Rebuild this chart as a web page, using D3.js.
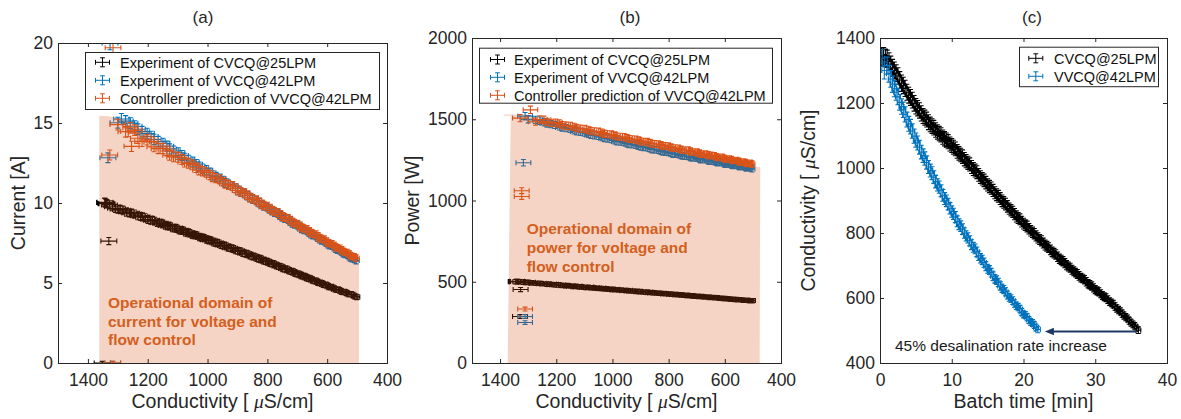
<!DOCTYPE html>
<html><head><meta charset="utf-8">
<script src="https://cdn.jsdelivr.net/npm/d3@7"></script>
<style>
body{margin:0;background:#fff}
svg{display:block}
</style>
</head><body>
<svg id="chart" width="1181" height="419"></svg>
<script>
// ---------------- DATA ----------------
// CVCQ @ 25 LPM experiment, samples on the half minute
const cvcqTime = [0,0.5,1,1.5,2,2.5,3,3.5,4,4.5,5,5.5,6,6.5,7,7.5,8,8.5,9,9.5,10,10.5,11,11.5,12,12.5,13,13.5,14,14.5,15,15.5,16,16.5,17,17.5,18,18.5,19,19.5,20,20.5,21,21.5,22,22.5,23,23.5,24,24.5,25,25.5,26,26.5,27,27.5,28,28.5,29,29.5,30,30.5,31,31.5,32,32.5,33,33.5,34,34.5,35,35.5,36];
const cvcqCond = [1340,1344,1336,1318,1300,1283,1261,1245,1224,1209,1190,1177,1160,1149,1134,1124,1111,1102,1090,1081,1069,1059,1045,1035,1021,1011,997,987,972,962,948,938,924,913,899,889,875,865,851,842,829,820,807,798,785,776,763,755,742,734,721,713,701,693,682,674,663,656,644,637,626,619,608,601,589,581,568,559,546,537,524,514,501];
const cvcqCurrent = [9.98,10.03,9.95,9.77,9.62,9.55,9.38,9.31,9.15,9.08,8.92,8.87,8.74,8.69,8.57,8.53,8.42,8.39,8.29,8.26,8.15,8.11,7.99,7.96,7.84,7.80,7.68,7.64,7.50,7.47,7.34,7.30,7.18,7.13,7.01,6.97,6.84,6.80,6.67,6.64,6.51,6.48,6.36,6.32,6.20,6.16,6.04,6.00,5.87,5.85,5.72,5.69,5.57,5.55,5.43,5.40,5.28,5.26,5.14,5.12,5.01,4.98,4.88,4.85,4.74,4.70,4.59,4.55,4.44,4.40,4.29,4.25,4.13];
const cvcqPower = [503,500,502,497,497,492,491,487,486,482,481,477,477,473,473,470,470,466,467,464,464,460,461,457,457,454,454,450,450,447,447,443,444,440,440,436,437,433,433,430,430,427,427,424,424,421,421,418,418,415,415,412,412,409,410,406,407,404,404,401,402,398,399,396,396,393,393,390,390,387,387,384,384];
// CVCQ @ 25 LPM experiment, samples in between (quarter minutes)
const cvcqTime2 = [0.25,0.75,1.25,1.75,2.25,2.75,3.25,3.75,4.25,4.75,5.25,5.75,6.25,6.75,7.25,7.75,8.25,8.75,9.25,9.75,10.25,10.75,11.25,11.75,12.25,12.75,13.25,13.75,14.25,14.75,15.25,15.75,16.25,16.75,17.25,17.75,18.25,18.75,19.25,19.75,20.25,20.75,21.25,21.75,22.25,22.75,23.25,23.75,24.25,24.75,25.25,25.75,26.25,26.75,27.25,27.75,28.25,28.75,29.25,29.75,30.25,30.75,31.25,31.75,32.25,32.75,33.25,33.75,34.25,34.75,35.25,35.75];
const cvcqCond2 = [1343,1339,1328,1308,1292,1271,1254,1233,1217,1199,1184,1168,1155,1141,1129,1117,1106,1095,1086,1074,1064,1051,1040,1027,1016,1003,992,979,967,955,943,931,918,906,894,882,870,858,846,835,824,813,802,791,780,769,759,748,738,727,717,707,697,687,678,668,660,650,641,631,622,613,604,595,585,574,563,552,541,530,519,507];
const cvcqCurrent2 = [10.05,9.96,9.88,9.67,9.60,9.43,9.37,9.20,9.14,8.97,8.92,8.77,8.74,8.60,8.57,8.44,8.43,8.31,8.30,8.17,8.15,8.02,7.99,7.87,7.84,7.71,7.68,7.54,7.51,7.37,7.34,7.21,7.17,7.04,7.01,6.87,6.84,6.71,6.67,6.55,6.52,6.39,6.36,6.23,6.20,6.07,6.04,5.90,5.88,5.75,5.72,5.60,5.58,5.46,5.43,5.31,5.29,5.17,5.15,5.03,5.01,4.90,4.88,4.76,4.74,4.61,4.59,4.46,4.44,4.31,4.29,4.16];
const cvcqPower2 = [501,499,500,495,494,490,489,485,484,480,479,475,475,471,472,468,468,465,466,462,462,459,459,455,456,452,452,448,449,445,445,442,442,438,438,435,435,431,432,428,429,425,426,422,423,419,420,416,417,413,414,410,411,408,408,405,406,402,403,400,400,397,398,394,395,391,392,388,389,385,386,382];

// VVCQ @ 42 LPM experiment and controller prediction, half-minute samples
const vvcqTime = [1.5,2,2.5,3,3.5,4,4.5,5,5.5,6,6.5,7,7.5,8,8.5,9,9.5,10,10.5,11,11.5,12,12.5,13,13.5,14,14.5,15,15.5,16,16.5,17,17.5,18,18.5,19,19.5,20,20.5,21,21.5,22];
const vvcqCond = [1274,1244,1219,1189,1165,1136,1114,1086,1064,1038,1017,992,972,948,930,906,889,866,849,827,812,791,776,756,742,722,709,690,678,659,648,630,619,602,592,576,566,550,541,526,517,503];
const vvcqCurrent = [15.12,14.80,14.46,14.16,13.84,13.55,13.25,12.97,12.68,12.42,12.14,11.89,11.63,11.39,11.15,10.92,10.68,10.46,10.23,10.02,9.81,9.62,9.41,9.22,9.03,8.84,8.66,8.49,8.31,8.14,7.98,7.82,7.65,7.50,7.35,7.22,7.06,6.93,6.79,6.66,6.52,6.40];
const predCurrent = [14.45,14.55,13.85,13.82,13.40,13.25,12.88,12.72,12.47,12.20,11.99,11.75,11.56,11.33,11.13,10.93,10.70,10.49,10.26,10.06,9.85,9.67,9.47,9.28,9.09,8.92,8.73,8.57,8.40,8.23,8.08,7.92,7.76,7.61,7.47,7.34,7.19,7.07,6.93,6.80,6.67,6.55];
const vvcqPower = [1496,1482,1470,1456,1445,1432,1422,1410,1400,1389,1380,1369,1361,1351,1344,1335,1328,1319,1312,1304,1298,1291,1285,1278,1273,1266,1262,1256,1252,1245,1242,1236,1233,1227,1224,1219,1216,1211,1208,1203,1200,1195];
const predPower = [1485,1497,1478,1474,1460,1453,1442,1435,1425,1418,1408,1401,1392,1385,1377,1370,1362,1355,1348,1341,1335,1328,1322,1315,1310,1303,1298,1292,1286,1280,1277,1269,1266,1260,1255,1251,1246,1241,1237,1233,1229,1224];
// VVCQ in-between samples (quarter minutes)
const vvcqTime2 = [1.75,2.25,2.75,3.25,3.75,4.25,4.75,5.25,5.75,6.25,6.75,7.25,7.75,8.25,8.75,9.25,9.75,10.25,10.75,11.25,11.75,12.25,12.75,13.25,13.75,14.25,14.75,15.25,15.75,16.25,16.75,17.25,17.75,18.25,18.75,19.25,19.75,20.25,20.75,21.25,21.75];
const vvcqCond2 = [1258,1233,1202,1179,1149,1127,1098,1077,1049,1029,1003,984,958,941,916,899,876,859,836,821,800,785,764,751,730,717,698,686,667,655,637,626,609,598,583,572,557,547,532,523,509];
const vvcqCurrent2 = [14.99,14.61,14.34,13.97,13.73,13.38,13.14,12.80,12.57,12.26,12.05,11.73,11.53,11.25,11.06,10.78,10.59,10.33,10.15,9.90,9.74,9.50,9.34,9.11,8.96,8.73,8.60,8.38,8.25,8.04,7.92,7.72,7.60,7.41,7.31,7.12,7.02,6.84,6.75,6.57,6.47];
const predCurrent2 = [14.70,14.05,13.95,13.52,13.40,12.98,12.86,12.55,12.38,12.05,11.91,11.62,11.48,11.20,11.06,10.79,10.63,10.35,10.19,9.93,9.79,9.54,9.41,9.16,9.04,8.80,8.68,8.46,8.35,8.13,8.03,7.81,7.72,7.51,7.44,7.24,7.16,6.97,6.90,6.71,6.63];
const vvcqPower2 = [1491,1474,1465,1449,1441,1425,1418,1403,1397,1383,1377,1363,1358,1346,1342,1330,1326,1314,1310,1299,1297,1286,1284,1274,1272,1262,1261,1252,1251,1242,1241,1233,1232,1224,1224,1216,1216,1208,1208,1200,1200];
const predPower2 = [1498,1484,1479,1464,1459,1445,1441,1427,1424,1410,1407,1394,1391,1378,1376,1363,1361,1349,1347,1335,1334,1322,1321,1310,1309,1298,1297,1286,1285,1276,1275,1265,1265,1255,1255,1246,1246,1236,1237,1228,1229];

// start-up samples (irregular) per panel
const aCvcqCond = [1330,1352], aCvcqCurrent = [7.62,0];
const aVvcqCond = [1326,1333,1317,1300,1288], aVvcqCurrent = [20.0,12.83,0,15.02,15.25];
const aPredCond = [1316,1327,1317,1254,1265,1300], aPredCurrent = [19.7,13.0,0,13.54,14.47,14.9];
const bCvcqCond = [1327,1329], bCvcqPower = [452,286];
const bVvcqCond = [1311,1317,1311,1311,1300], bVvcqPower = [1519,1232,286,249,1500];
const bPredCond = [1292,1329,1323,1323,1311], bPredPower = [1558,1507,1060,1025,332];
const cVvcqTime = [0,0.3,0.6,1.0,1.25], cVvcqCond = [1322,1338,1300,1315,1290];

// operational domains (shaded)
const domainACond = [1362,1362,1330,1300,1270,1200,1100,1000,900,800,700,600,494,494];
const domainACurrent = [0,15.45,15.42,15.3,15.2,14.5,13.35,12.2,11.05,9.9,8.75,7.6,6.5,0];
const domainBCond = [1373,1362,1387,1387,1300,1270,1100,900,700,500,474,476];
const domainBPower = [0,1522,1522,1530,1530,1505,1440,1365,1290,1210,1204,0];

// measurement uncertainties
const condErrFrac = 0.02, currErrBase = 0.1, currErrFrac = 0.016, powErrBase = 9, powErrFrac = 0.009, timeErr = 0.35;

// ticks & labels
const condTicks = [1400,1200,1000,800,600,400];
const currentTicks = [0,5,10,15,20];
const powerTicks = [0,500,1000,1500,2000];
const timeTicks = [0,10,20,30,40];
const condTicksC = [400,600,800,1000,1200,1400];
const legendAB = ["Experiment of CVCQ@25LPM","Experiment of VVCQ@42LPM","Controller prediction of VVCQ@42LPM"];
const legendC = ["CVCQ@25LPM","VVCQ@42LPM"];
const noteA = ["Operational domain of","current for voltage and","flow control"];
const noteB = ["Operational domain of","power for voltage and","flow control"];
const arrowText = "45% desalination rate increase";

// ---------------- DRAWING ----------------
const FONT = '"Liberation Sans", Arial, Helvetica, sans-serif';
const INK = '#262626';
const C_BLACK = '#000000', C_BLUE = '#0072BD', C_ORANGE = '#D95319';
const svg = d3.select('#chart');
const defs = svg.append('defs');

const boxA = {x0:58, x1:387, y0:43, y1:363};
const boxB = {x0:472, x1:781, y0:38, y1:363};
const boxC = {x0:880, x1:1167, y0:38, y1:363};

const xA = d3.scaleLinear().domain([1500,400]).range([boxA.x0, boxA.x1]);
const yA = d3.scaleLinear().domain([0,20]).range([boxA.y1, boxA.y0]);
const xB = d3.scaleLinear().domain([1500,400]).range([boxB.x0, boxB.x1]);
const yB = d3.scaleLinear().domain([0,2000]).range([boxB.y1, boxB.y0]);
const xC = d3.scaleLinear().domain([0,40]).range([boxC.x0, boxC.x1]);
const yC = d3.scaleLinear().domain([400,1400]).range([boxC.y1, boxC.y0]);

function clip(id, b){
  defs.append('clipPath').attr('id', id).append('rect')
    .attr('x', b.x0).attr('y', b.y0).attr('width', b.x1-b.x0).attr('height', b.y1-b.y0);
}
clip('clipA', boxA); clip('clipB', boxB); clip('clipC', boxC);

function errorbars(g, xs, ys, X, Y, ex, ey, color){
  const cap = 2.5;
  const d = X.map((xv, i) => {
    const yv = Y[i];
    const cx = xs(xv), cy = ys(yv);
    const hx1 = xs(xv - ex(xv)), hx2 = xs(xv + ex(xv));
    const vy1 = ys(yv - ey(yv)), vy2 = ys(yv + ey(yv));
    return `M${hx1},${cy}H${hx2}M${hx1},${cy-cap}V${cy+cap}M${hx2},${cy-cap}V${cy+cap}` +
           `M${cx},${vy1}V${vy2}M${cx-cap},${vy1}H${cx+cap}M${cx-cap},${vy2}H${cx+cap}`;
  }).join('');
  g.append('path').attr('d', d).attr('fill','none').attr('stroke', color).attr('stroke-width', 1.1);
}

function axes(b, xs, ys, xt, yt){
  const fmt = d3.format('d');
  const g = svg.append('g').attr('font-family', FONT).attr('font-size', 17.5).attr('color', INK);
  g.append('g').attr('transform', `translate(0,${b.y1})`)
    .call(d3.axisBottom(xs).tickValues(xt).tickFormat(fmt).tickSize(-4).tickPadding(11));
  g.append('g').attr('transform', `translate(0,${b.y0})`)
    .call(d3.axisTop(xs).tickValues(xt).tickSize(-4).tickFormat(''));
  g.append('g').attr('transform', `translate(${b.x0},0)`)
    .call(d3.axisLeft(ys).tickValues(yt).tickFormat(fmt).tickSize(-4).tickPadding(5));
  g.append('g').attr('transform', `translate(${b.x1},0)`)
    .call(d3.axisRight(ys).tickValues(yt).tickSize(-4).tickFormat(''));
  g.selectAll('.domain').remove();
  g.selectAll('text').attr('fill', INK).attr('font-size', 17.5).attr('font-family', FONT);
  g.selectAll('.tick line').attr('stroke', INK);
  g.append('rect').attr('x', b.x0+0.5).attr('y', b.y0+0.5)
    .attr('width', b.x1-b.x0).attr('height', b.y1-b.y0)
    .attr('fill','none').attr('stroke', INK).attr('stroke-width', 1);
}

function text(x, y, s, opts={}){
  const t = svg.append('text').attr('x', x).attr('y', y).text(s)
    .attr('font-family', FONT).attr('font-size', opts.size || 17)
    .attr('fill', opts.color || INK).attr('text-anchor', opts.anchor || 'start');
  if (opts.weight) t.attr('font-weight', opts.weight);
  return t;
}

function condLabel(x, y, rotate){
  const t = svg.append('text').attr('font-family', FONT).attr('font-size', 19.5)
    .attr('fill', INK).attr('text-anchor','middle')
    .attr('transform', rotate ? `translate(${x},${y}) rotate(-90)` : `translate(${x},${y})`);
  t.append('tspan').text('Conductivity [ ');
  t.append('tspan').text('μ').attr('font-family','"Liberation Serif", serif').attr('font-style','italic');
  t.append('tspan').text('S/cm]');
}

function legend(b, rows){
  const g = svg.append('g');
  g.append('rect').attr('x', b.x+0.5).attr('y', b.y+0.5).attr('width', b.w).attr('height', b.h)
    .attr('fill','#fff').attr('stroke', INK).attr('stroke-width', 1);
  rows.forEach((r, i) => {
    const cy = b.rowY[i], cx = b.iconX, hw = 7, vh = 4.5, cap = 2.4;
    g.append('path').attr('d',
      `M${cx-hw},${cy}H${cx+hw}M${cx-hw},${cy-cap}V${cy+cap}M${cx+hw},${cy-cap}V${cy+cap}` +
      `M${cx},${cy-vh}V${cy+vh}M${cx-cap},${cy-vh}H${cx+cap}M${cx-cap},${cy+vh}H${cx+cap}`)
      .attr('fill','none').attr('stroke', r.color).attr('stroke-width', 1);
    g.append('text').attr('x', b.textX).attr('y', cy+5.2).text(r.label)
      .attr('font-family', FONT).attr('font-size', 14.5).attr('fill', '#111');
  });
}

const cErr = v => v * condErrFrac;
const iErr = v => currErrBase + v * currErrFrac;
const pErr = v => powErrBase + v * powErrFrac;
const tErr = () => timeErr;

// all samples of each run
const cvT = cvcqTime.concat(cvcqTime2), cvC = cvcqCond.concat(cvcqCond2);
const cvI = cvcqCurrent.concat(cvcqCurrent2), cvP = cvcqPower.concat(cvcqPower2);
const vvT = vvcqTime.concat(vvcqTime2), vvC = vvcqCond.concat(vvcqCond2);
const vvI = vvcqCurrent.concat(vvcqCurrent2), vvP = vvcqPower.concat(vvcqPower2);
const prI = predCurrent.concat(predCurrent2), prP = predPower.concat(predPower2);

// ---------- Panel (a) ----------
{
  const g = svg.append('g').attr('clip-path','url(#clipA)');
  errorbars(g, xA, yA, cvC, cvI, cErr, iErr, C_BLACK);
  errorbars(g, xA, yA, aCvcqCond, aCvcqCurrent, cErr, iErr, C_BLACK);
  errorbars(g, xA, yA, vvC, vvI, cErr, iErr, C_BLUE);
  errorbars(g, xA, yA, aVvcqCond, aVvcqCurrent, cErr, iErr, C_BLUE);
  errorbars(g, xA, yA, vvC, prI, cErr, iErr, C_ORANGE);
  errorbars(g, xA, yA, aPredCond, aPredCurrent, cErr, iErr, C_ORANGE);
  const area = domainACond.map((c, i) => [xA(c), yA(domainACurrent[i])]);
  g.append('path').attr('d', d3.line()(area) + 'Z').attr('fill', C_ORANGE).attr('fill-opacity', 0.25);
  noteA.forEach((s, i) => text(108, 308.3 + i*18.4, s, {size:15.5, weight:'bold', color:'#D35F20'}));
}
axes(boxA, xA, yA, condTicks, currentTicks);
text(203, 23, '(a)', {size:17, anchor:'middle'});
condLabel((boxA.x0+boxA.x1)/2, 408, false);
svg.append('text').attr('transform', `translate(25,${(boxA.y0+boxA.y1)/2}) rotate(-90)`)
  .attr('text-anchor','middle').attr('font-family', FONT).attr('font-size', 19.5).attr('fill', INK).text('Current [A]');
legend({x:85, y:52, w:294, h:57, iconX:102.5, textX:120, rowY:[62.3,80.3,98.3]},
  [{label:legendAB[0], color:C_BLACK},{label:legendAB[1], color:C_BLUE},{label:legendAB[2], color:C_ORANGE}]);

// ---------- Panel (b) ----------
{
  const g = svg.append('g').attr('clip-path','url(#clipB)');
  errorbars(g, xB, yB, cvC, cvP, cErr, pErr, C_BLACK);
  errorbars(g, xB, yB, bCvcqCond, bCvcqPower, cErr, pErr, C_BLACK);
  errorbars(g, xB, yB, vvC, vvP, cErr, pErr, C_BLUE);
  errorbars(g, xB, yB, bVvcqCond, bVvcqPower, cErr, pErr, C_BLUE);
  errorbars(g, xB, yB, vvC, prP, cErr, pErr, C_ORANGE);
  errorbars(g, xB, yB, bPredCond, bPredPower, cErr, pErr, C_ORANGE);
  const area = domainBCond.map((c, i) => [xB(c), yB(domainBPower[i])]);
  g.append('path').attr('d', d3.line()(area) + 'Z').attr('fill', C_ORANGE).attr('fill-opacity', 0.25);
  noteB.forEach((s, i) => text(526.7, 234.3 + i*18.6, s, {size:15.5, weight:'bold', color:'#D35F20'}));
}
axes(boxB, xB, yB, condTicks, powerTicks);
text(630, 23, '(b)', {size:17, anchor:'middle'});
condLabel((boxB.x0+boxB.x1)/2, 408, false);
svg.append('text').attr('transform', `translate(419,${(boxB.y0+boxB.y1)/2}) rotate(-90)`)
  .attr('text-anchor','middle').attr('font-family', FONT).attr('font-size', 19.5).attr('fill', INK).text('Power [W]');
legend({x:479, y:47.7, w:293, h:55, iconX:497.5, textX:514, rowY:[59.5,77.3,95.3]},
  [{label:legendAB[0], color:C_BLACK},{label:legendAB[1], color:C_BLUE},{label:legendAB[2], color:C_ORANGE}]);

// ---------- Panel (c) ----------
{
  const g = svg.append('g').attr('clip-path','url(#clipC)');
  errorbars(g, xC, yC, cvT, cvC, tErr, cErr, C_BLACK);
  errorbars(g, xC, yC, vvT, vvC, tErr, cErr, C_BLUE);
  errorbars(g, xC, yC, cVvcqTime, cVvcqCond, tErr, cErr, C_BLUE);
  // arrow from end of CVCQ run to end of VVCQ run
  const ax1 = xC(cvcqTime[cvcqTime.length-1]) - 1.5, ax2 = xC(vvcqTime[vvcqTime.length-1]) + 7;
  const ay = yC(497);
  g.append('line').attr('x1', ax1).attr('x2', ax2 + 8).attr('y1', ay).attr('y2', ay)
    .attr('stroke', '#1F3864').attr('stroke-width', 2);
  g.append('path').attr('d', `M${ax2},${ay}L${ax2+9},${ay-3.8}L${ax2+9},${ay+3.8}Z`).attr('fill', '#1F3864');
}
axes(boxC, xC, yC, timeTicks, condTicksC);
text(895, 350.5, arrowText, {size:15.5, color:'#1a1a1a'});
text(1032, 23, '(c)', {size:17, anchor:'middle'});
text((boxC.x0+boxC.x1)/2, 408, 'Batch time [min]', {size:19.5, anchor:'middle'});
condLabel(815, (boxC.y0+boxC.y1)/2, true);
legend({x:1019, y:46.7, w:139, h:39.5, iconX:1035.8, textX:1054, rowY:[58.3,76.3]},
  [{label:legendC[0], color:C_BLACK},{label:legendC[1], color:C_BLUE}]);
</script>
</body></html>
